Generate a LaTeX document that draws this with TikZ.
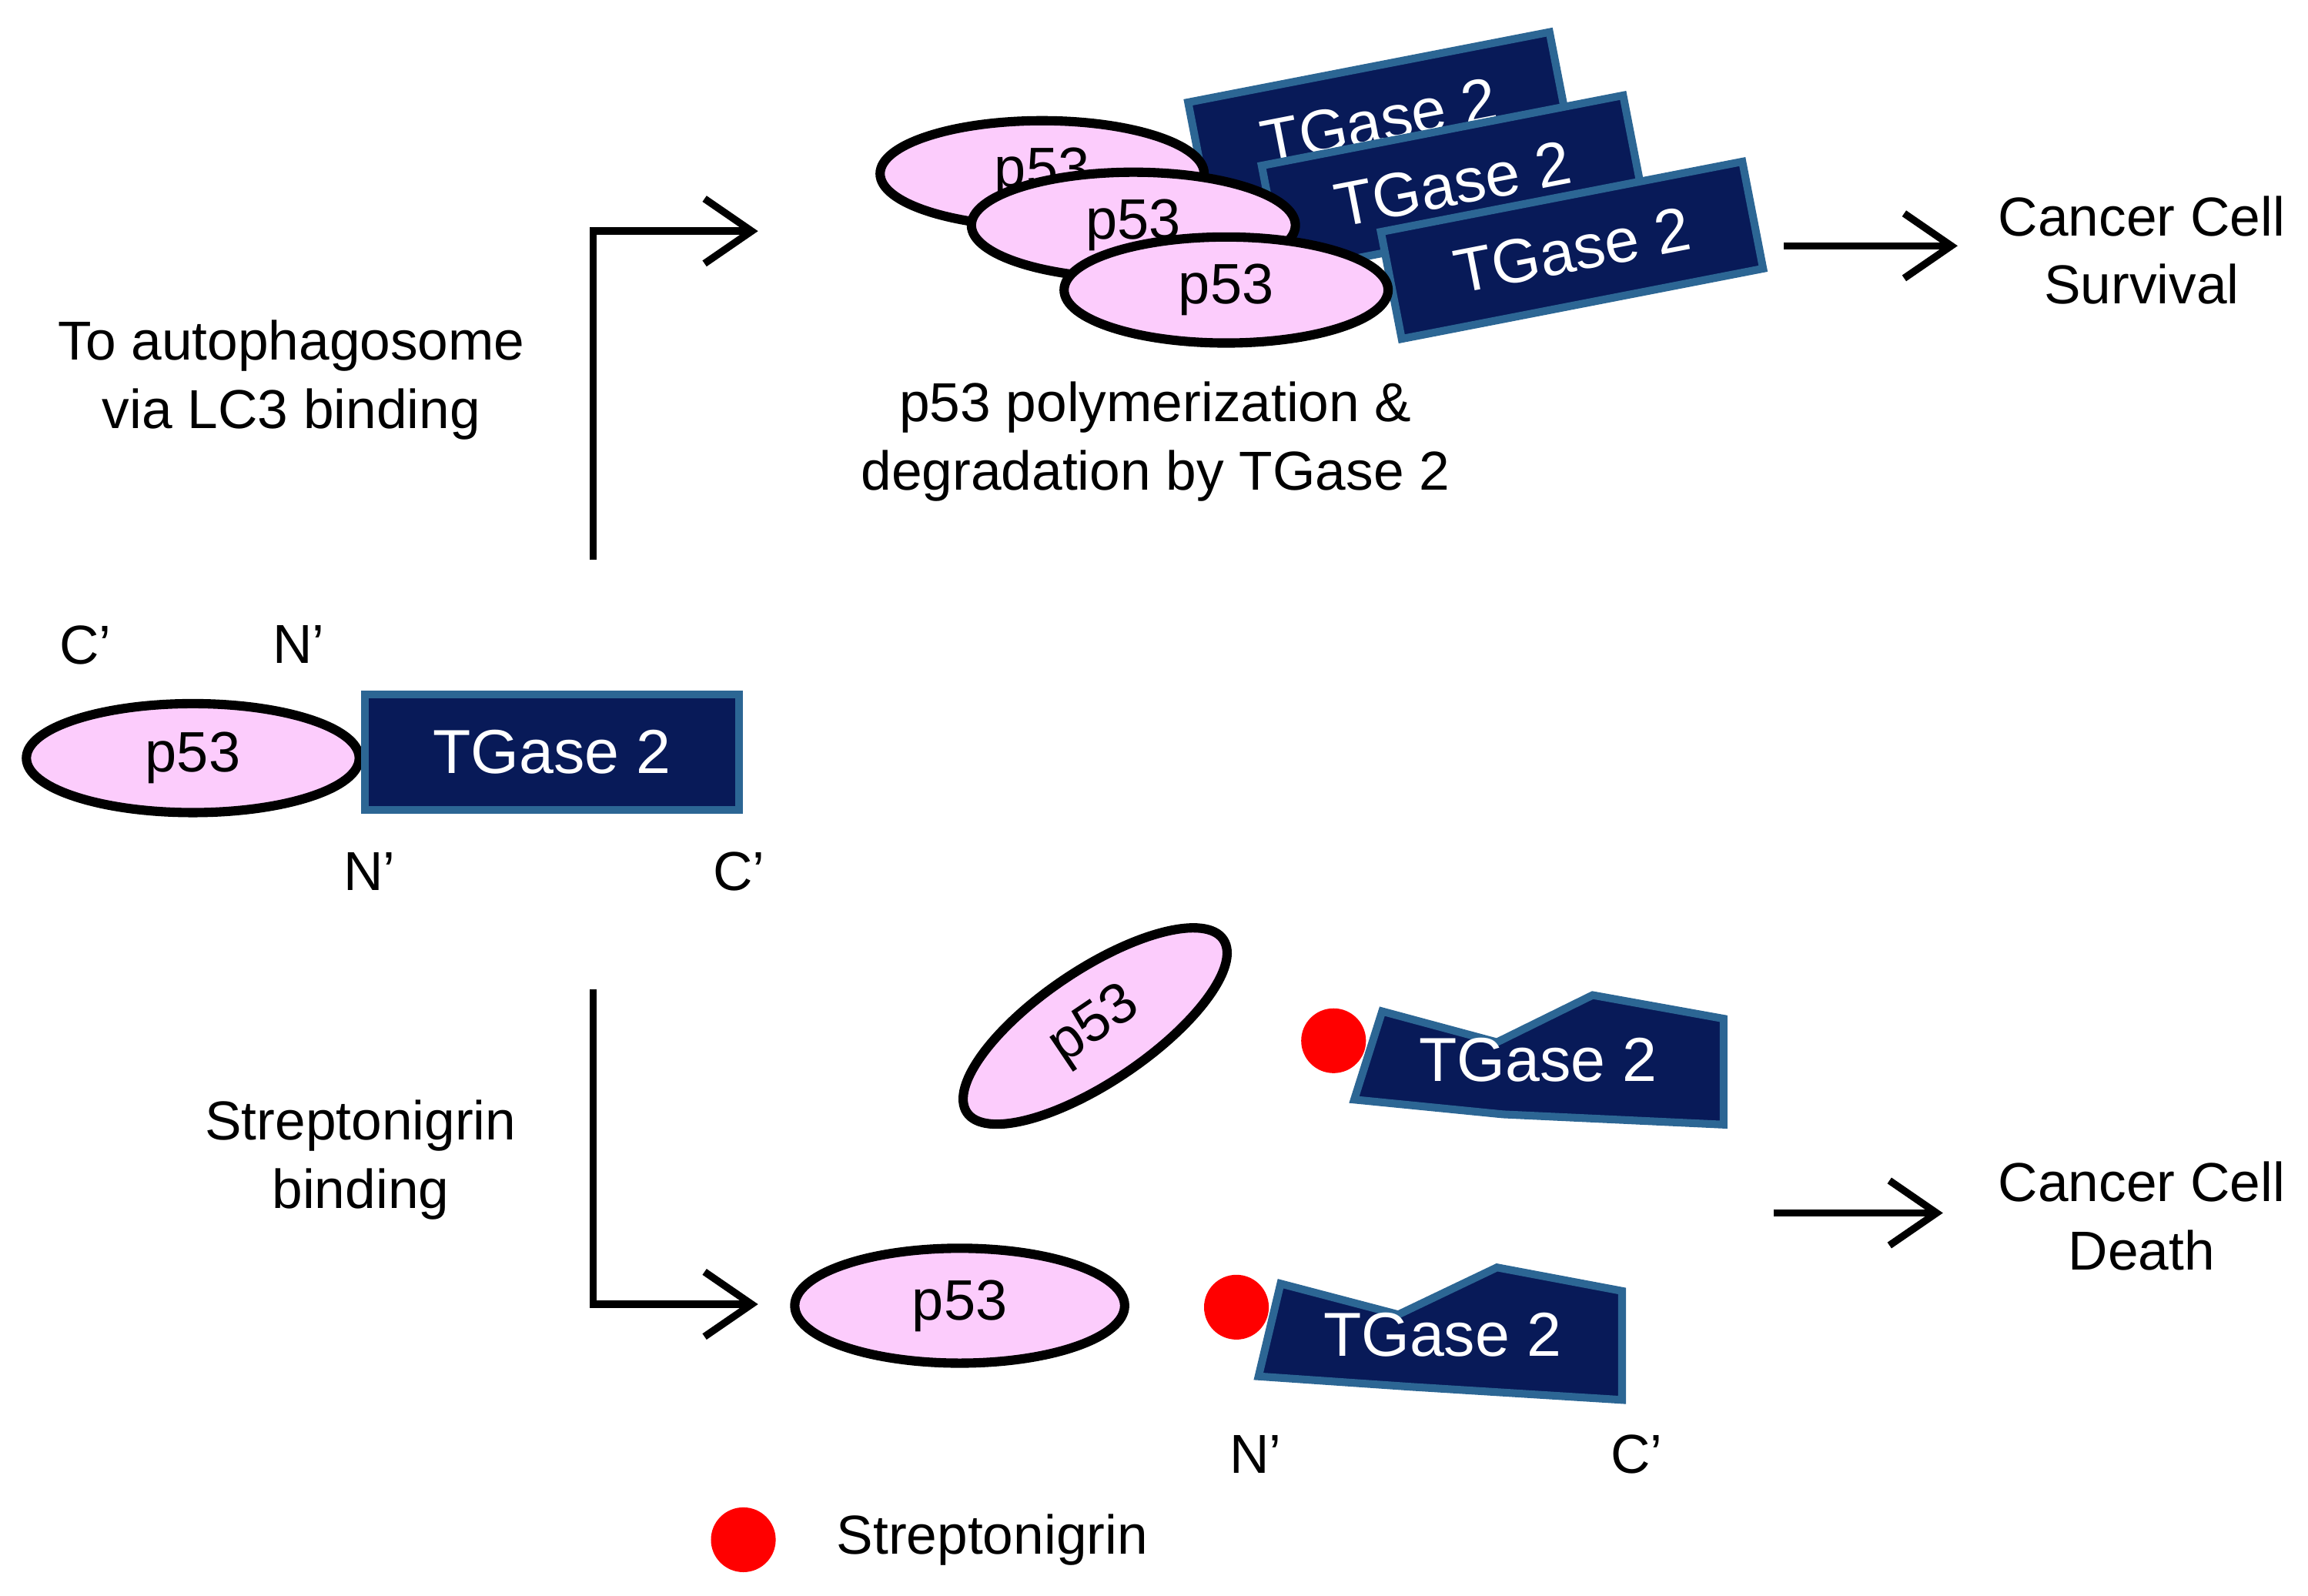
\documentclass[tikz,border=0pt]{standalone}
\usepackage{fontspec}
\setmainfont{Liberation Sans}
\usetikzlibrary{arrows.meta,shapes.geometric}
\definecolor{pinkp}{RGB}{252,204,252}
\definecolor{navyt}{RGB}{8,26,88}
\definecolor{bluet}{RGB}{44,102,148}
\tikzset{
	ptf/.style={ellipse, draw=black, line width=1.8pt, fill=pinkp, inner sep=0pt,
			minimum width=2.2cm, minimum height=0.72cm, font=\fontsize{11}{13}\selectfont},
	tgase/.style={rectangle, draw=bluet, line width=1.5pt, fill=navyt, text=white, inner sep=0pt,
			minimum width=2.5cm, minimum height=0.74cm, font=\fontsize{12}{14}\selectfont},
	tgbent/.style={draw=bluet, line width=1.5pt, fill=navyt, line join=miter},
	lbl/.style={align=center, font=\fontsize{10.6}{13.2}\selectfont},
	strep/.style={fill=red, draw=none},
	flow/.style={line width=1.4pt, -{Straight Barb[length=3.2mm, width=4.4mm, line width=1.4pt]}}
}

\begin{document}
\begin{tikzpicture}[x=0.01cm, y=-0.01cm]
			\useasboundingbox (0,0) rectangle (1568,1084);

			% complex at rest
			\node[ptf, minimum width=2.26cm, minimum height=0.74cm] (p53a) at (131,515) {p53};
			\node[tgase, minimum width=2.54cm, minimum height=0.78cm] (tga) at (375,511) {TGase 2};
			\node[lbl] (ca) at (58,438) {C'};
			\node[lbl] (na) at (203,438) {N'};
			\node[lbl] (nb) at (251,592) {N'};
			\node[lbl] (cb) at (502,592) {C'};

			% upper branch
			\coordinate (up0) at (403,380);
			\coordinate (up1) at (403,157);
			\coordinate (up2) at (515,157);
			\draw[flow] (up0) -- (up1) -- (up2);
			\node[lbl] (lc3) at (198,258) {To autophagosome\\via LC3 binding};

			\foreach \n/\tx/\ty in {1/937/82, 2/987/125, 3/1068/170}
				\node[tgase, rotate=11] (tg\n) at (\tx,\ty) {TGase 2};
			\foreach \n/\px/\py in {1/708/118, 2/770/153, 3/833/197}
				\node[ptf] (pp\n) at (\px,\py) {p53};
			\node[lbl] (poly) at (785,300) {p53 polymerization \&\\degradation by TGase 2};

			\coordinate (s0) at (1212,167);
			\coordinate (s1) at (1330,167);
			\draw[flow] (s0) -- (s1);
			\node[lbl] (surv) at (1455,170) {Cancer Cell\\Survival};

			% lower branch
			\coordinate (dn0) at (403,672);
			\coordinate (dn1) at (403,886);
			\coordinate (dn2) at (515,886);
			\draw[flow] (dn0) -- (dn1) -- (dn2);
			\node[lbl] (sbind) at (245,788) {Streptonigrin\\binding};

			\node[ptf, rotate=34, minimum width=2.1cm, minimum height=0.76cm] (pt) at (744,697) {p53};
			\draw[tgbent] (939,687) -- (1017,708) -- (1082,676) -- (1171,692) -- (1171,764) -- (1021,757) -- (920,747) -- cycle;
			\node[text=white, font=\fontsize{12}{14}\selectfont] (tgt) at (1045,720) {TGase 2};
			\fill[strep] (906,707) circle (22);

			\node[ptf, minimum width=2.24cm, minimum height=0.78cm] (pb) at (652,887) {p53};
			\draw[tgbent] (870,872) -- (950,893) -- (1017,861) -- (1102,877) -- (1102,951) -- (957,942) -- (855,935) -- cycle;
			\node[text=white, font=\fontsize{12}{14}\selectfont] (tgb) at (980,907) {TGase 2};
			\fill[strep] (840,888) circle (22);
			\node[lbl] (nc) at (853,988) {N'};
			\node[lbl] (cc) at (1112,988) {C'};

			\coordinate (d0) at (1205,824);
			\coordinate (d1) at (1320,824);
			\draw[flow] (d0) -- (d1);
			\node[lbl] (death) at (1455,826) {Cancer Cell\\Death};

			% legend
			\fill[strep] (505,1046) circle (22);
			\node[lbl, anchor=west] (leg) at (556,1046) {Streptonigrin};
		\end{tikzpicture}
\end{document}
